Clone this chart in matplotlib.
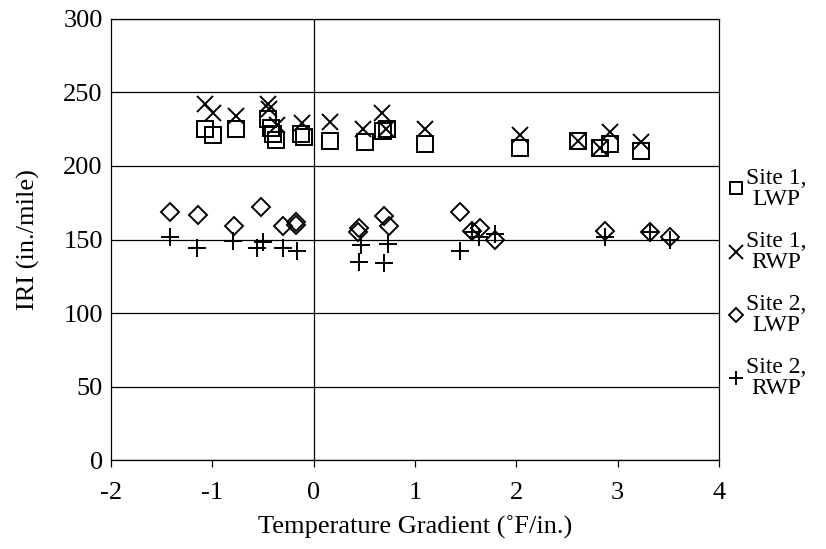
import matplotlib
matplotlib.use("Agg")
import matplotlib.pyplot as plt

plt.rcParams["font.family"] = ["Liberation Serif", "DejaVu Serif"]

# Site 1, LWP
x_s1_lwp = [-1.07, -0.99, -0.77, -0.45, -0.42, -0.40, -0.37, -0.13, -0.10, 0.16,
            0.51, 0.68, 0.72, 1.10, 2.04, 2.61, 2.83, 2.92, 3.23]
y_s1_lwp = [225, 221, 225, 232, 226, 222, 218, 222, 220, 217,
            216, 224, 225, 215, 212, 217, 212, 215, 210]
# Site 1, RWP
x_s1_rwp = [-1.07, -0.99, -0.77, -0.45, -0.44, -0.36, -0.12, 0.16, 0.49, 0.67,
            0.71, 1.10, 2.04, 2.61, 2.83, 2.92, 3.23]
y_s1_rwp = [242, 236, 234, 242, 239, 228, 229, 230, 225, 236,
            225, 225, 221, 217, 212, 223, 216]
# Site 2, LWP
x_s2_lwp = [-1.42, -1.14, -0.79, -0.52, -0.30, -0.17, -0.17, 0.45, 0.44, 0.69,
            0.74, 1.44, 1.56, 1.64, 1.79, 2.87, 3.32, 3.52]
y_s2_lwp = [169, 167, 159, 172, 159, 162, 160, 158, 155, 166,
            159, 169, 156, 158, 150, 156, 155, 152]
# Site 2, RWP
x_s2_rwp = [-1.42, -1.15, -0.80, -0.56, -0.50, -0.30, -0.16, 0.45, 0.47, 0.69,
            0.73, 1.44, 1.56, 1.63, 1.79, 2.87, 3.32, 3.52]
y_s2_rwp = [152, 144, 149, 144, 148, 144, 142, 135, 146, 134,
            147, 142, 155, 152, 154, 152, 155, 150]

fig = plt.figure(figsize=(8.26, 5.49), dpi=100)
ax = fig.add_axes([0.1344, 0.1621, 0.7361, 0.8033])

ax.plot(x_s1_lwp, y_s1_lwp, ls="none", marker="s", ms=11, mfc="none", mec="black", mew=1.4,
        label="Site 1,\nLWP")
ax.plot(x_s1_rwp, y_s1_rwp, ls="none", marker="x", ms=12, mec="black", mew=1.4,
        label="Site 1,\nRWP")
ax.plot(x_s2_lwp, y_s2_lwp, ls="none", marker="D", ms=9, mfc="none", mec="black", mew=1.4,
        label="Site 2,\nLWP")
ax.plot(x_s2_rwp, y_s2_rwp, ls="none", marker="+", ms=13, mec="black", mew=1.4,
        label="Site 2,\nRWP")

ax.set_xlim(-2, 4)
ax.set_ylim(0, 300)
ax.set_xticks(range(-2, 5))
ax.set_yticks(range(0, 301, 50))
ax.set_xticklabels(["-2", "-1", "0", "1", "2", "3", "4"])
ax.grid(axis="y", color="black", lw=0.9)
ax.axvline(0, color="black", lw=0.9)
ax.set_axisbelow(True)
for s in ax.spines.values():
    s.set_linewidth(0.9)
ax.tick_params(axis="y", length=0, labelsize=19, pad=6)
ax.tick_params(axis="x", length=5, width=0.9, labelsize=19, pad=11)
ax.set_xlabel("Temperature Gradient (˚F/in.)", fontsize=19, labelpad=8)
ax.set_ylabel("IRI (in./mile)", fontsize=19, labelpad=17)

leg = ax.legend(loc="center left", bbox_to_anchor=(1.0, 0.40), frameon=False, fontsize=17,
                handlelength=0.6, handletextpad=0.15, labelspacing=0.9, markerscale=0.8,
                borderaxespad=0.0)
for t in leg.get_texts():
    t.set_multialignment("center")
    t.set_linespacing(1.0)

fig.savefig("out.png", dpi=100)
